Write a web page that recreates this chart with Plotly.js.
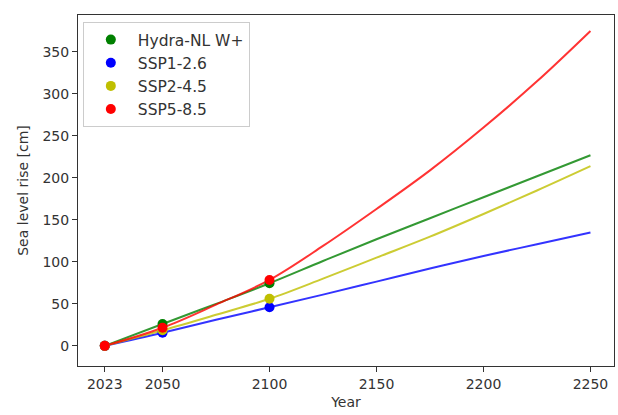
<!DOCTYPE html>
<html>
<head>
<meta charset="utf-8">
<script src="https://cdn.plot.ly/plotly-3.0.1.min.js"></script>
<style>html,body{margin:0;padding:0;background:#fff;}#chart{width:618px;height:415px;}</style>
</head>
<body>
<div id="chart"></div>
<script>
// Observed points
const pointYears = [2023, 2050, 2100];
const hydraPts = [0, 26, 74.5];
const ssp126Pts = [0, 15.5, 46];
const ssp245Pts = [0, 18.5, 56];
const ssp585Pts = [0, 21.5, 78.5];

// Projection curves
const curveYears = [2023, 2050, 2075, 2100, 2125, 2150, 2175, 2200, 2225, 2250];
const hydraCurve = [0, 26, 50, 74.5, 101, 127, 152, 177, 202, 227];
const ssp126Curve = [0, 15.5, 31, 46, 61, 76.5, 92, 107, 121, 135];
const ssp245Curve = [0, 18.5, 37, 56, 80, 105, 130, 157, 185, 214];
const ssp585Curve = [0, 21.5, 49, 78.5, 119, 163, 209, 260, 315, 375];

const names = ['Hydra-NL W+', 'SSP1-2.6', 'SSP2-4.5', 'SSP5-8.5'];
const colors = ['#008000', '#0000ff', '#bfbf00', '#ff0000'];
const curves = [hydraCurve, ssp126Curve, ssp245Curve, ssp585Curve];
const pts = [hydraPts, ssp126Pts, ssp245Pts, ssp585Pts];

const xTicks = [2023, 2050, 2100, 2150, 2200, 2250];
const yTicks = [0, 50, 100, 150, 200, 250, 300, 350];

const traces = [];
for (let i = 0; i < 4; i++) {
  traces.push({
    x: curveYears, y: curves[i], mode: 'lines', type: 'scatter',
    line: {color: colors[i], width: 2, shape: 'spline'}, opacity: 0.8,
    showlegend: false, hoverinfo: 'skip'
  });
}
for (let i = 0; i < 4; i++) {
  traces.push({
    x: pointYears, y: pts[i], mode: 'markers', type: 'scatter', name: names[i],
    marker: {color: colors[i], size: 10}
  });
}

const font = {family: 'DejaVu Sans', size: 14, color: '#333333'};
const layout = {
  width: 618, height: 415,
  margin: {l: 78, r: 4, t: 15, b: 49},
  paper_bgcolor: '#fff', plot_bgcolor: '#fff',
  font: font,
  showlegend: true,
  legend: {
    x: 0.009, y: 0.98, xanchor: 'left', yanchor: 'top',
    bgcolor: 'rgba(255,255,255,0.8)', bordercolor: '#cccccc', borderwidth: 1,
    font: {family: 'DejaVu Sans', size: 15.5, color: '#333333'},
    itemwidth: 44, traceorder: 'normal'
  },
  xaxis: {
    range: [2010.5, 2261], tickvals: xTicks, ticktext: xTicks.map(String),
    showgrid: false, zeroline: false, showline: true, mirror: true,
    linecolor: '#333', linewidth: 1, ticks: 'outside', ticklen: 5, tickcolor: '#333',
    title: {text: 'Year', font: font, standoff: 6}
  },
  yaxis: {
    range: [-24, 394], tickvals: yTicks, ticktext: yTicks.map(String),
    showgrid: false, zeroline: false, showline: true, mirror: true,
    linecolor: '#333', linewidth: 1, ticks: 'outside', ticklen: 5, tickcolor: '#333',
    title: {text: 'Sea level rise [cm]', font: font, standoff: 10}
  }
};
Plotly.newPlot('chart', traces, layout, {staticPlot: true});
</script>
</body>
</html>
